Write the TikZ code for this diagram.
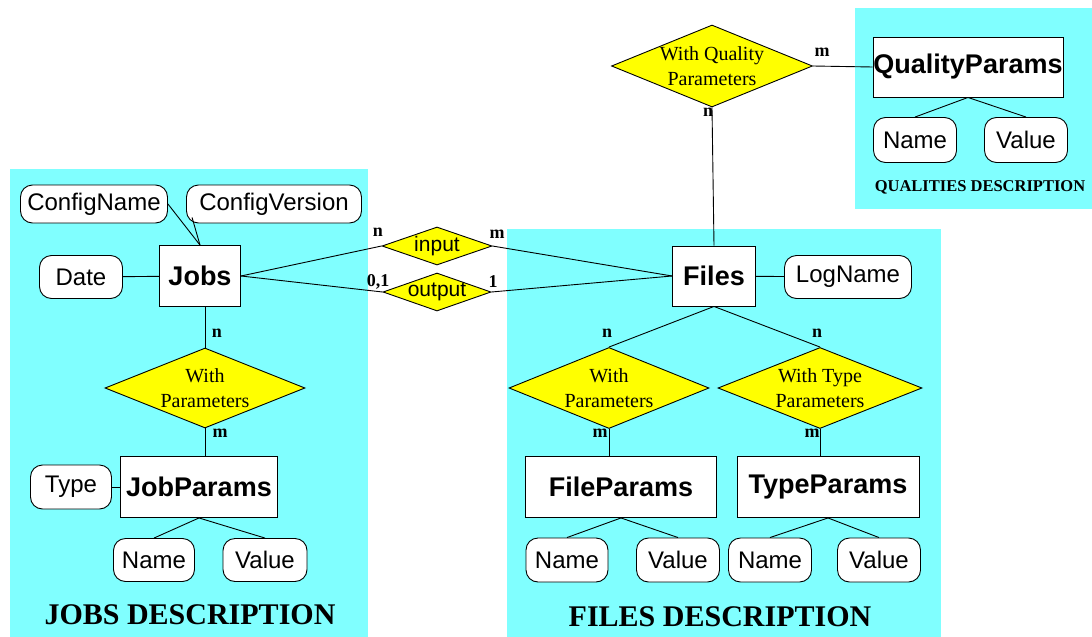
\documentclass[tikz,border=0pt]{standalone}
\usepackage{fontspec}
\setmainfont{Liberation Serif}
\setsansfont{Liberation Sans}
\usetikzlibrary{shapes.geometric,calc}
\definecolor{ercyan}{HTML}{80FFFF}
\definecolor{eryellow}{HTML}{FFFF00}

\begin{document}
\begin{tikzpicture}[x=1pt, y=-1pt, line width=0.9pt,
  entity/.style={draw, fill=white, minimum height=61pt, inner sep=0pt, font=\sffamily\bfseries\fontsize{27}{30}\selectfont},
  attr/.style={draw, fill=white, rounded corners=12pt, minimum height=43pt, inner sep=0pt, font=\sffamily\fontsize{24}{28}\selectfont},
  rel/.style={diamond, draw, fill=eryellow, inner sep=0pt},
  reltext/.style={align=center, inner sep=0pt, font=\fontsize{20}{25}\selectfont},
  relsmall/.style={inner sep=0pt, font=\sffamily\fontsize{21}{24}\selectfont},
  card/.style={inner sep=0pt, font=\bfseries\fontsize{18}{18}\selectfont},
  area/.style={inner sep=0pt, font=\bfseries\fontsize{30}{30}\selectfont}]

\useasboundingbox (0,0) rectangle (1092,637);

% ---------------- cyan areas
\fill[ercyan] (10,169) rectangle (368,637);
\fill[ercyan] (507,229) rectangle (941,637);
\fill[ercyan] (855,8) rectangle (1092,209);

% ---------------- jobs description
\node[entity, minimum width=81pt] (jobs) at (200,276) {Jobs};
\node[attr, minimum width=147pt, minimum height=38pt] (aconfname) at (94,204) {ConfigName};
\node[attr, minimum width=175pt, minimum height=38pt] (aconfver) at (274,204) {ConfigVersion};
\node[attr, minimum width=83pt] (adate) at (81,277) {Date};
\node[rel, minimum width=200pt, minimum height=80pt] (rjobpar) at (205,388) {};
\node[reltext] (tjobpar) at (rjobpar) {With\\Parameters};
\node[entity, minimum width=157pt] (jparams) at (199,487) {JobParams};
\node[attr, minimum width=81pt, minimum height=44pt] (atype) at (71,487) {Type};
\node[attr, minimum width=81pt] (ajname) at (154,560) {Name};
\node[attr, minimum width=84pt] (ajvalue) at (265,560) {Value};
\node[area] (ljobs) at (190,615) {JOBS DESCRIPTION};

\draw (adate) -- (jobs);
\draw (aconfname.east) -- (jobs.north);
\draw ($(aconfver.south west)+(6,-6)$) -- (jobs.north);
\draw (rjobpar.north) -- (rjobpar.north |- jobs.south);
\draw (rjobpar.south) -- (rjobpar.south |- jparams.north);
\draw (atype) -- (jparams);
\draw (jparams.south) -- (ajname.north);
\draw (jparams.south) -- (ajvalue.north);
\node[card] (cjn) at (217,333) {n};
\node[card] (cjm) at (220,433) {m};

% ---------------- input / output between jobs and files
\node[rel, minimum width=110pt, minimum height=38pt] (rinput) at (437,246) {};
\node[relsmall] (tinput) at (rinput) {input};
\node[rel, minimum width=108pt, minimum height=38pt] (routput) at (437,292) {};
\node[relsmall] (toutput) at (routput) {output};
\node[card] (cin) at (378,232) {n};
\node[card] (cim) at (497,234) {m};
\node[card] (con) at (378,282) {0,1};
\node[card] (com) at (493,282) {1};

% ---------------- files description
\node[entity, minimum width=83pt, minimum height=60pt] (files) at (714,276) {Files};
\node[attr, minimum width=127pt] (alogname) at (848,277) {LogName};
\node[rel, minimum width=200pt, minimum height=81pt] (rfilepar) at (609,388) {};
\node[reltext] (tfilepar) at (rfilepar) {With\\Parameters};
\node[rel, minimum width=204pt, minimum height=81pt] (rtypepar) at (820,388) {};
\node[reltext] (ttypepar) at (rtypepar) {With Type\\Parameters};
\node[entity, minimum width=191pt] (fparams) at (621,487) {FileParams};
\node[entity, minimum width=182pt] (tparams) at (828,487) {TypeParams};
\node[attr, minimum width=82pt, minimum height=44pt] (afname) at (567,560) {Name};
\node[attr, minimum width=83pt, minimum height=44pt] (afvalue) at (678,560) {Value};
\node[attr, minimum width=83pt, minimum height=44pt] (atname) at (770,560) {Name};
\node[attr, minimum width=83pt, minimum height=44pt] (atvalue) at (879,560) {Value};
\node[area] (lfiles) at (720,617) {FILES DESCRIPTION};

\draw (jobs.east) -- (rinput.west);
\draw (jobs.east) -- (routput.west);
\draw (rinput.east) -- (files.west);
\draw (routput.east) -- (files.west);
\draw (files) -- (alogname);
\draw (files.south) -- (rfilepar.north);
\draw (files.south) -- (rtypepar.north);
\draw (rfilepar.south) -- (rfilepar.south |- fparams.north);
\draw (rtypepar.south) -- (rtypepar.south |- tparams.north);
\draw (fparams.south) -- (afname.north);
\draw (fparams.south) -- (afvalue.north);
\draw (tparams.south) -- (atname.north);
\draw (tparams.south) -- (atvalue.north);
\node[card] (cfn) at (607,333) {n};
\node[card] (cfm) at (600,433) {m};
\node[card] (ctn) at (817,333) {n};
\node[card] (ctm) at (812,433) {m};

% ---------------- qualities description
\node[rel, minimum width=201pt, minimum height=82pt] (rqual) at (712,66) {};
\node[reltext] (tqual) at (rqual) {With Quality\\Parameters};
\node[entity, minimum width=190pt, minimum height=60pt] (qparams) at (968,67) {QualityParams};
\node[attr, minimum width=83pt, minimum height=45pt] (aqname) at (915,140) {Name};
\node[attr, minimum width=83pt, minimum height=45pt] (aqvalue) at (1026,140) {Value};
\node[area, font=\bfseries\fontsize{16.5}{16.5}\selectfont] (lqual) at (980,187) {QUALITIES DESCRIPTION};

\draw (rqual.east) -- (qparams.west);
\draw (rqual.south) -- (files.north);
\draw (qparams.south) -- (aqname.north);
\draw (qparams.south) -- (aqvalue.north);
\node[card] (cqm) at (822,52) {m};
\node[card] (cqn) at (708,112) {n};
\end{tikzpicture}
\end{document}
